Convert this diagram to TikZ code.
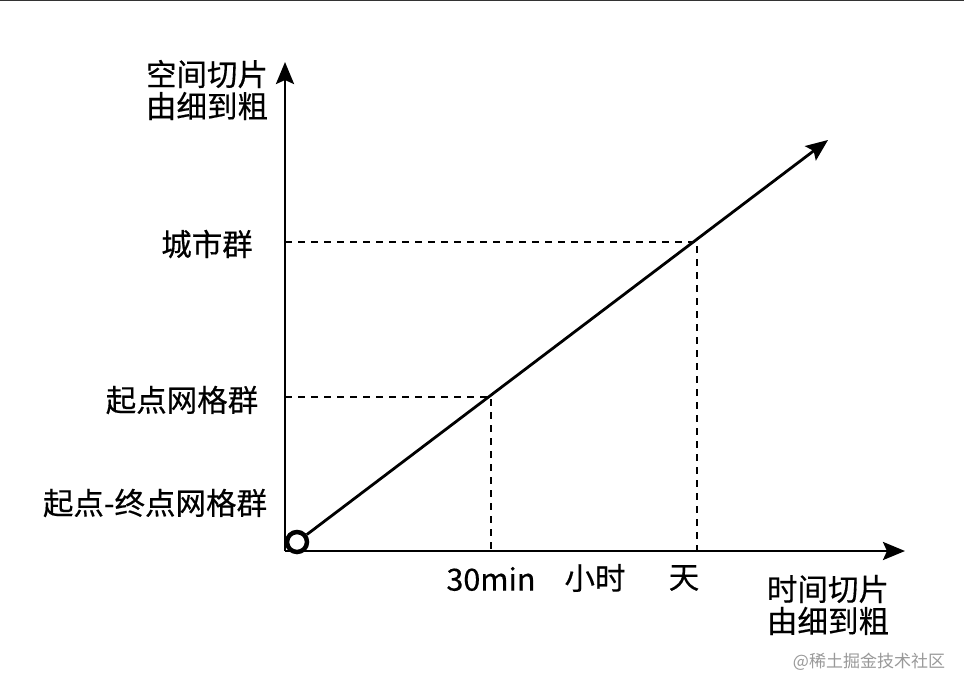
\documentclass[tikz,border=0pt]{standalone}
\usepackage{fontspec}
\setmainfont{Noto Sans CJK SC}
\newfontfamily\lblfont{Noto Sans CJK SC}[UprightFeatures={FakeBold=0.4}]
\usetikzlibrary{arrows.meta}
\begin{document}
\begin{tikzpicture}[x=1pt,y=-1pt,
  axis/.style={line width=2.8pt,-{Stealth[length=22pt,width=18pt,inset=4pt]}},
  guide/.style={line width=2.4pt,dash pattern=on 7pt off 6pt},
  lbl/.style={font=\lblfont\fontsize{30.5}{36}\selectfont,inner sep=0pt},
  wmark/.style={font=\fontsize{17}{20}\selectfont,text=black!40,inner sep=0pt}]
\useasboundingbox (0,0) rectangle (964,680);
\fill[white] (0,0) rectangle (964,680);
\draw[black!80,line width=1.5pt] (0,0.5) -- (964,0.5);
% axes
\coordinate (O) at (285,551);
\coordinate (ytip) at (285,62);
\coordinate (xtip) at (905,551);
\draw[axis] (O) -- (ytip);
\draw[axis] (O) -- (xtip);
% origin circle
\node[circle,draw,line width=4.5pt,minimum size=20pt,inner sep=0pt,fill=white] (c) at (297,542) {};
% diagonal
\coordinate (dtip) at (828,140);
\draw[axis] (c) -- (dtip);
% guides
\coordinate (ya) at (285,242);
\coordinate (pa) at (697,242);
\coordinate (xa) at (697,551);
\coordinate (yb) at (285,397);
\coordinate (pb) at (491,397);
\coordinate (xb) at (491,551);
\draw[guide] (ya) -- (pa) -- (xa);
\draw[guide] (yb) -- (pb) -- (xb);
% labels
\node[lbl,align=center] (ylab) at (207,90) {空间切片\\[-4pt]由细到粗};
\node[lbl] (l1) at (207,244) {城市群};
\node[lbl] (l2) at (182,400) {起点网格群};
\node[lbl] (l3) at (155,503) {起点-终点网格群};
\node[lbl] (t1) at (491,579) {30min};
\node[lbl] (t2) at (595,578) {小时};
\node[lbl] (t3) at (684,578) {天};
\node[lbl,align=center] (xlab) at (828,605) {时间切片\\[-4pt]由细到粗};
\node[wmark] (wm) at (869,662) {@稀土掘金技术社区};
\end{tikzpicture}
\end{document}
